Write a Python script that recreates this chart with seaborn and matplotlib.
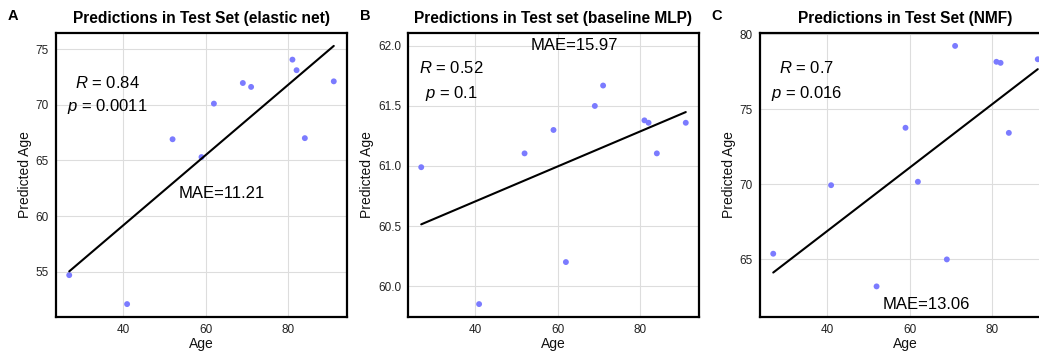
import numpy as np
import pandas as pd
import matplotlib
matplotlib.use("Agg")
import matplotlib.pyplot as plt
import seaborn as sns

# ---- data ----
age = [27, 41, 52, 59, 62, 69, 71, 81, 82, 84, 91]
pred_enet = [54.7, 52.1, 66.9, 65.3, 70.1, 71.95, 71.6, 74.05, 73.1, 67.0, 72.1]
pred_mlp = [60.99, 59.85, 61.105, 61.30, 60.20, 61.50, 61.67, 61.38, 61.36, 61.105, 61.36]
pred_nmf = [65.36, 69.93, 63.18, 73.76, 70.16, 64.98, 79.22, 78.16, 78.09, 73.42, 78.33]

titles = ["Predictions in Test Set (elastic net)",
          "Predictions in Test set (baseline MLP)",
          "Predictions in Test Set (NMF)"]
panel_tags = ["A", "B", "C"]
r_labels = ["0.84", "0.52", "0.7"]
p_labels = ["0.0011", "0.1", "0.016"]
mae_labels = ["MAE=11.21", "MAE=15.97", "MAE=13.06"]
yticks = [[55, 60, 65, 70, 75], [60.0, 60.5, 61.0, 61.5, 62.0], [65, 70, 75, 80]]
yticklabels = [["55", "60", "65", "70", "75"],
               ["60.0", "60.5", "61.0", "61.5", "62.0"],
               ["65", "70", "75", "80"]]
xticks = [40, 60, 80]

sns.set_theme(style="whitegrid")
plt.rcParams["font.family"] = ["Liberation Sans", "DejaVu Sans"]
plt.rcParams["mathtext.fontset"] = "custom"
plt.rcParams["mathtext.it"] = "Liberation Sans:italic"
plt.rcParams["mathtext.rm"] = "Liberation Sans"

fig = plt.figure(figsize=(10.39, 3.52), dpi=100)
W, H = 1039, 352
lefts = [56, 408, 760]
top_px, bot_px, width_px = 33, 317, 291

# text placement (axes fractions) for R/p
rp_x = [0.175, 0.149, 0.16]
r_y_px = [82.7, 68.3, 68.3]
p_y_px = [106.7, 93.3, 93.3]
mae_pos = (64, 62)

series = [pred_enet, pred_mlp, pred_nmf]
for i in range(3):
    ax = fig.add_axes([lefts[i] / W, 1 - bot_px / H, width_px / W, (bot_px - top_px) / H])
    df = pd.DataFrame({"Age": age, "Predicted Age": series[i]})
    sns.regplot(data=df, x="Age", y="Predicted Age", ax=ax, ci=None,
                scatter_kws=dict(s=18, color="#7b7bff", alpha=1, edgecolors="none", zorder=3),
                line_kws=dict(color="black", lw=1.5, zorder=4))
    ax.update_datalim([mae_pos])
    ax.margins(0.05)
    ax.autoscale_view()
    ax.set_xticks(xticks)
    ax.set_xticklabels([str(t) for t in xticks])
    ax.set_yticks(yticks[i])
    ax.set_yticklabels(yticklabels[i])
    ax.grid(True, color="#dddddd", lw=0.8)
    ax.set_axisbelow(True)
    for s in ax.spines.values():
        s.set_visible(True)
        s.set_color("black")
        s.set_linewidth(1.6)
    ax.tick_params(length=3, width=0.8, color="#333333", labelsize=8.5,
                   labelcolor="#222222", pad=2)
    ax.set_xlabel("Age", fontsize=10, color="#111111", labelpad=1)
    ax.set_ylabel("Predicted Age", fontsize=10, color="#111111", labelpad=3)
    ax.set_title(titles[i], fontsize=11.2, fontweight="bold", pad=7, color="black")
    # R / p
    ax_h = bot_px - top_px
    ax.text(rp_x[i], 1 - (r_y_px[i] - top_px) / ax_h, r"$R$ = " + r_labels[i],
            transform=ax.transAxes, ha="center", va="center", fontsize=12, color="black")
    ax.text(rp_x[i], 1 - (p_y_px[i] - top_px) / ax_h, r"$p$ = " + p_labels[i],
            transform=ax.transAxes, ha="center", va="center", fontsize=12, color="black")
    ax.text(mae_pos[0], mae_pos[1], mae_labels[i], ha="center", va="center",
            fontsize=12, color="black")
    fig.text((lefts[i] - 43) / W, 1 - 16 / H, panel_tags[i], fontsize=10.5,
             fontweight="bold", ha="center", va="center", color="black")

fig.savefig("out.png", dpi=100)
